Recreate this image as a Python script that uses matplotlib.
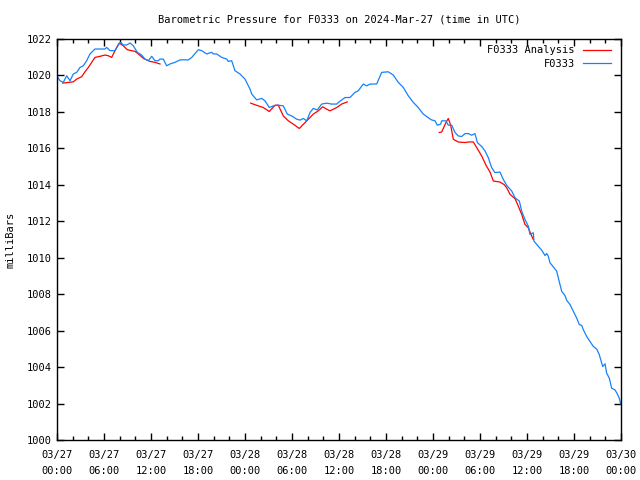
import numpy as np
import matplotlib
matplotlib.use("Agg")
import matplotlib.pyplot as plt
from matplotlib.ticker import MultipleLocator, FixedLocator

# hours since 2024-03-27 00:00 UTC, pressure in mb
obs_hours = [0.0, 0.38, 0.80, 1.24, 1.66, 2.08, 2.51, 2.94, 3.36, 3.79, 4.21, 4.63, 4.85,
             6.13, 6.34, 6.77, 7.40, 7.83, 8.13, 8.46, 8.90, 9.32, 9.74, 10.25, 10.81,
             11.23, 11.66, 12.09, 12.51, 12.93, 13.15, 13.57, 14.00, 14.43, 15.06, 15.70,
             16.12, 16.76, 17.20, 18.04, 18.47, 19.11, 19.75, 19.95, 20.39, 21.03, 21.66,
             21.87, 22.30, 22.72, 23.36, 24.00, 24.64, 24.86, 25.49, 26.13, 26.55, 27.10,
             27.61, 28.25, 28.89, 29.40, 29.96, 30.60, 31.02, 31.44, 31.88, 32.30, 32.72,
             33.23, 33.79, 34.43, 35.07, 35.71, 35.91, 36.77, 37.40, 38.04, 38.46, 39.10,
             39.54, 39.96, 40.81, 41.45, 42.29, 42.93, 43.57, 44.21, 44.85, 45.49, 46.12,
             46.76, 47.53, 47.83, 48.26, 48.55, 48.98, 49.11, 49.66, 49.95, 50.39, 50.81,
             51.23, 51.66, 52.09, 52.51, 52.94, 53.36, 53.66, 54.22, 54.64, 55.06, 55.49,
             55.91, 56.55, 56.97, 57.41, 58.05, 58.47, 59.02, 59.32, 59.74, 60.17, 60.38,
             60.81, 60.89, 61.44, 61.88, 62.30, 62.51, 62.72, 62.94, 63.36, 63.79, 64.00,
             64.21, 64.43, 64.85, 65.07, 65.49, 65.91, 66.34, 66.68, 66.98, 67.19, 67.62,
             68.04, 68.47, 68.90, 69.23, 69.66, 69.96, 70.17, 70.51, 70.81, 71.23, 71.53,
             71.78, 71.96]
obs_mb = [1019.97, 1019.71, 1019.62, 1019.98, 1019.71, 1020.08, 1020.17, 1020.44, 1020.53,
          1020.81, 1021.18, 1021.36, 1021.45, 1021.45, 1021.54, 1021.36, 1021.36, 1021.67,
          1021.82, 1021.67, 1021.67, 1021.78, 1021.63, 1021.27, 1021.12, 1020.90, 1020.81,
          1021.05, 1020.81, 1020.81, 1020.90, 1020.90, 1020.53, 1020.63, 1020.72, 1020.85,
          1020.86, 1020.85, 1020.99, 1021.41, 1021.36, 1021.18, 1021.27, 1021.18, 1021.18,
          1020.99, 1020.90, 1020.77, 1020.81, 1020.26, 1020.08, 1019.80, 1019.25, 1018.98,
          1018.66, 1018.74, 1018.61, 1018.24, 1018.33, 1018.37, 1018.33, 1017.88, 1017.78,
          1017.60, 1017.55, 1017.64, 1017.51, 1017.97, 1018.19, 1018.11, 1018.43, 1018.48,
          1018.43, 1018.43, 1018.52, 1018.79, 1018.79, 1019.07, 1019.16, 1019.53, 1019.43,
          1019.53, 1019.53, 1020.17, 1020.20, 1020.02, 1019.62, 1019.34, 1018.88, 1018.52,
          1018.24, 1017.88, 1017.64, 1017.56, 1017.51, 1017.27, 1017.33, 1017.51, 1017.51,
          1017.27, 1017.27, 1016.87, 1016.68, 1016.65, 1016.81, 1016.81, 1016.72, 1016.81,
          1016.32, 1016.10, 1015.86, 1015.49, 1014.94, 1014.67, 1014.70, 1014.30, 1013.97,
          1013.66, 1013.29, 1013.11, 1012.56, 1012.10, 1011.73, 1011.28, 1011.37, 1010.91,
          1010.63, 1010.41, 1010.12, 1010.23, 1010.08, 1009.72, 1009.50, 1009.26, 1008.89,
          1008.53, 1008.16, 1007.92, 1007.66, 1007.43, 1007.06, 1006.69, 1006.33, 1006.29,
          1006.05, 1005.68, 1005.41, 1005.13, 1004.99, 1004.68, 1004.03, 1004.18, 1003.67,
          1003.39, 1002.84, 1002.75, 1002.53, 1002.29, 1001.98]

# analysis series comes in three pieces (gaps between them)
ana_hours_1 = [0.73, 2.08, 2.51, 3.15, 3.57, 4.00, 4.43, 4.85, 5.49, 6.13, 6.55, 6.98,
               7.62, 7.95, 8.46, 8.97, 9.96, 10.38, 11.02, 11.87, 12.51, 13.15]
ana_mb_1 = [1019.58, 1019.65, 1019.80, 1019.93, 1020.20, 1020.44, 1020.72, 1020.99,
            1021.05, 1021.12, 1021.08, 1020.99, 1021.54, 1021.78, 1021.63, 1021.41,
            1021.32, 1021.18, 1020.94, 1020.77, 1020.72, 1020.63]
ana_hours_2 = [24.73, 25.70, 26.34, 27.10, 27.83, 28.25, 28.89, 29.53, 30.17, 30.93,
               31.88, 32.72, 33.36, 33.92, 34.43, 34.85, 35.71, 36.34, 37.06]
ana_mb_2 = [1018.48, 1018.33, 1018.24, 1018.02, 1018.37, 1018.37, 1017.78, 1017.51,
            1017.33, 1017.09, 1017.51, 1017.88, 1018.06, 1018.28, 1018.15, 1018.06,
            1018.24, 1018.43, 1018.55]
ana_hours_3 = [48.80, 49.11, 49.66, 49.95, 50.26, 50.59, 51.23, 52.09, 52.51, 53.15,
               53.58, 54.22, 54.77, 55.28, 55.70, 56.55, 57.06, 57.41, 57.83, 58.47,
               58.89, 59.32, 59.74, 60.17, 60.51, 60.81]
ana_mb_3 = [1016.87, 1016.90, 1017.42, 1017.64, 1017.27, 1016.50, 1016.35, 1016.32,
            1016.35, 1016.35, 1016.04, 1015.58, 1015.07, 1014.70, 1014.21, 1014.15,
            1014.02, 1013.84, 1013.48, 1013.24, 1012.83, 1012.38, 1011.83, 1011.64,
            1011.28, 1011.00]

tick_hours = list(range(0, 73, 6))
tick_labels = ["03/27\n00:00", "03/27\n06:00", "03/27\n12:00", "03/27\n18:00",
               "03/28\n00:00", "03/28\n06:00", "03/28\n12:00", "03/28\n18:00",
               "03/29\n00:00", "03/29\n06:00", "03/29\n12:00", "03/29\n18:00",
               "03/30\n00:00"]

plt.rcParams['font.family'] = ['DejaVu Sans Mono']
plt.rcParams['font.size'] = 7

fig = plt.figure(figsize=(6.4, 4.8), dpi=100)
ax = fig.add_axes([57/640, 40/480, (621-57)/640, (441-40)/480])

red = '#ff0000'
blue = '#1482fa'
ax.plot(ana_hours_1, ana_mb_1, color=red, lw=0.9, label='F0333 Analysis')
ax.plot(ana_hours_2, ana_mb_2, color=red, lw=0.9)
ax.plot(ana_hours_3, ana_mb_3, color=red, lw=0.9)
ax.plot(obs_hours, obs_mb, color=blue, lw=0.9, label='F0333')

ax.set_xlim(0, 72)
ax.set_ylim(1000, 1022)
ax.xaxis.set_major_locator(FixedLocator(tick_hours))
ax.set_xticklabels(tick_labels, linespacing=1.75)
ax.xaxis.set_minor_locator(MultipleLocator(2))
ax.yaxis.set_major_locator(MultipleLocator(2))
ax.tick_params(which='both', direction='in', top=True, right=True, colors='black')
ax.tick_params(which='major', length=5, width=1, labelsize=7.5, pad=4)
ax.tick_params(axis='x', which='major', pad=7)
ax.tick_params(which='minor', length=3, width=1)
for s in ax.spines.values():
    s.set_linewidth(1)

ax.set_ylabel('milliBars', fontsize=7.5, labelpad=8)

fig.text(339/640, 1 - 19/480, 'Barometric Pressure for F0333 on 2024-Mar-27 (time in UTC)',
         ha='center', va='center', fontsize=7.5)

ax.legend(loc='upper right', frameon=False, markerfirst=False, fontsize=7.5,
          handlelength=2.7, handletextpad=0.8, borderaxespad=0.2, borderpad=0.4,
          labelspacing=0.35, bbox_to_anchor=(0.994, 1.0))

fig.savefig('out.png', dpi=100)
